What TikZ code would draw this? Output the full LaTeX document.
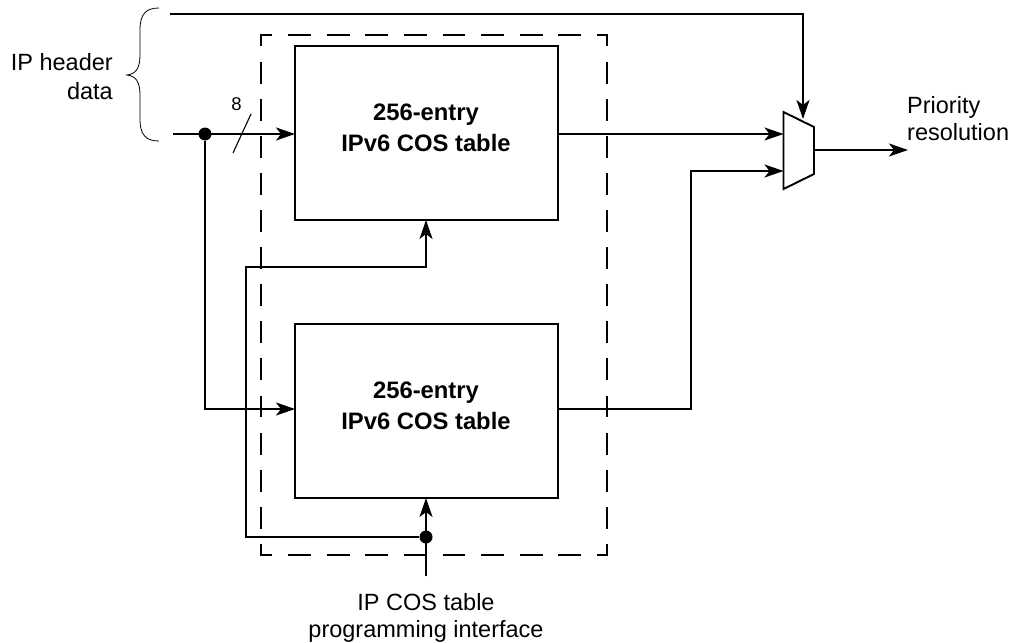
\documentclass[tikz,border=0pt]{standalone}
\usepackage{fontspec}
\setmainfont{Liberation Sans}
\usetikzlibrary{arrows.meta}
\tikzset{
  wire/.style={line width=1.9pt},
  bigtip/.style={-{Stealth[length=19pt,width=13pt,inset=5pt]}},
  flow/.style={wire,bigtip},
  tablebox/.style={draw,line width=1.9pt,minimum width=263pt,minimum height=174pt,inner sep=0pt},
  tablelab/.style={align=center,inner sep=0pt,font=\fontsize{23.8}{31}\selectfont\bfseries},
  junct/.style={circle,fill=black,minimum size=13pt,inner sep=0pt},
  lab/.style={font=\fontsize{23.5}{27.5}\selectfont,inner sep=0pt},
  dashv/.style={line width=1.9pt,line cap=rect,dash pattern=on 20pt off 17.1pt,dash phase=9.5pt},
  dashh/.style={line width=1.9pt,line cap=rect,dash pattern=on 21pt off 17.6pt,dash phase=10.5pt}
}
\begin{document}
\begin{tikzpicture}[x=1pt,y=-1pt]
\useasboundingbox (0,0) rectangle (1013,643);
\coordinate (dtl) at (261,35);
\coordinate (dtr) at (607,35);
\coordinate (dbl) at (261,555);
\coordinate (dbr) at (607,555);
\draw[dashh] (dtl) -- (dtr);
\draw[dashh] (dbl) -- (dbr);
\draw[dashv] (dtl) -- (dbl);
\draw[dashv] (dtr) -- (dbr);
\node[tablebox] (t1) at (426.5,133) {};
\node[tablebox] (t2) at (426.5,411) {};
\node[tablelab] (t1lab) at (426,127.5) {256-entry\\IPv6 COS table};
\node[tablelab] (t2lab) at (426,405.5) {256-entry\\IPv6 COS table};
\draw[wire] (783.5,112) -- (814,127) -- (814,174) -- (783.5,189) -- cycle;
\coordinate (mtop) at (803,119);
\coordinate (m1) at (783.5,134);
\coordinate (m2) at (783.5,171);
\coordinate (mout) at (814,150);
\coordinate (topstart) at (170,14);
\coordinate (instart) at (173,134);
\coordinate (t1in) at (295,134);
\coordinate (t2in) at (295,409);
\coordinate (t1out) at (558,134);
\coordinate (t2out) at (558,409);
\coordinate (pout) at (908,150);
\coordinate (pgm) at (426,576);
\coordinate (t1b) at (426,220);
\coordinate (t2b) at (426,498);
\node[junct] (j1) at (205,134) {};
\node[junct] (j2) at (426,537) {};
\draw[flow] (topstart) -| (mtop);
\draw[flow] (instart) -- (t1in);
\draw[flow] (j1) |- (t2in);
\draw[flow] (t1out) -- (m1);
\draw[flow] (t2out) -| (691,171) -- (m2);
\draw[flow] (mout) -- (pout);
\draw[flow] (pgm) -- (t2b);
\draw[flow] (j2) -- (246,537) -- (246,267) -- (426,267) -- (t1b);
\coordinate (s1) at (233,153);
\coordinate (s2) at (251,114);
\draw[line width=1.1pt] (s1) -- (s2);
\node[font=\fontsize{18.5}{22}\selectfont,inner sep=0pt] (eight) at (236.5,104) {8};
\coordinate (b1) at (159,8);
\coordinate (b2) at (159,141);
\coordinate (btip) at (127,75);
\draw[line width=0.8pt] (b1) .. controls (146,8) and (140,14) .. (140,30) -- (140,55) .. controls (140,68) and (136,74) .. (btip) .. controls (136,76) and (140,82) .. (140,95) -- (140,119) .. controls (140,135) and (146,141) .. (b2);
\node[lab,align=right,anchor=east,font=\fontsize{23.5}{29}\selectfont] (iph) at (113,77) {IP header\\data};
\node[lab,align=left,anchor=west] (pri) at (907,118.5) {Priority\\resolution};
\node[lab,align=center] (pgmlab) at (426,618) {IP COS table\\programming interface};
\end{tikzpicture}
\end{document}
